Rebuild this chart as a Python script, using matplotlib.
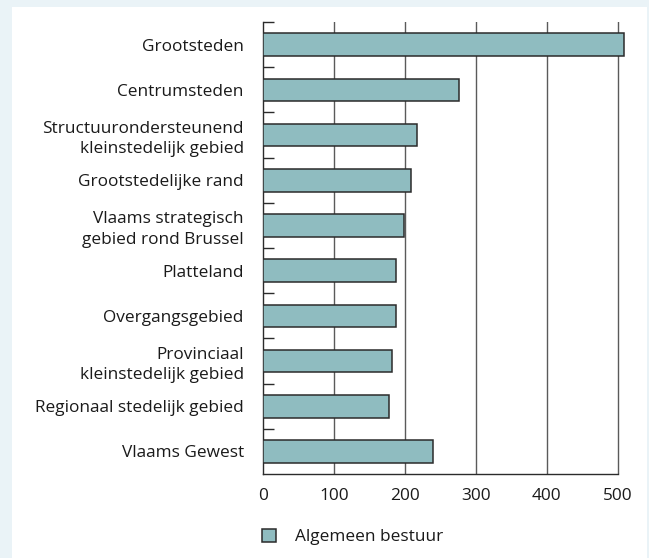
import matplotlib
matplotlib.use("Agg")
import matplotlib.pyplot as plt
from matplotlib.patches import Rectangle
import numpy as np

categories = [
    "Grootsteden",
    "Centrumsteden",
    "Structuurondersteunend\nkleinstedelijk gebied",
    "Grootstedelijke rand",
    "Vlaams strategisch\ngebied rond Brussel",
    "Platteland",
    "Overgangsgebied",
    "Provinciaal\nkleinstedelijk gebied",
    "Regionaal stedelijk gebied",
    "Vlaams Gewest",
]
values = [509, 276, 217, 209, 198, 188, 188, 182, 177, 240]
xticks = [0, 100, 200, 300, 400, 500]
series_name = "Algemeen bestuur"

plt.rcParams['font.family'] = ['Open Sans', 'DejaVu Sans']
FS = 12.4

W, H = 649, 558
fig = plt.figure(figsize=(W / 100, H / 100), dpi=100)
fig.patch.set_facecolor('#EAF3F7')
fig.add_artist(Rectangle((12 / W, 0), (647 - 12) / W, (558 - 7) / H,
                         transform=fig.transFigure, facecolor='white',
                         edgecolor='none', zorder=0))

left_px, right_px = 263.3, 631.7
top_px, bot_px = 22, 474
ax = fig.add_axes([left_px / W, 1 - bot_px / H, (right_px - left_px) / W, (bot_px - top_px) / H])
ax.set_facecolor('none')

y = np.arange(len(categories))
bars = ax.barh(y, values, height=0.5, color='#8FBCC0', edgecolor='#2b2b2b',
               linewidth=1.1, zorder=3, label=series_name)

ax.set_xlim(0, 520)
ax.set_ylim(len(categories) - 0.5, -0.5)

for t in xticks[1:]:
    ax.axvline(t, color='#5a5a5a', linewidth=1.0, zorder=1)

for s in ['top', 'right']:
    ax.spines[s].set_visible(False)
ax.spines['left'].set_color('#2b2b2b')
ax.spines['bottom'].set_color('#2b2b2b')
ax.spines['left'].set_linewidth(1.0)
ax.spines['bottom'].set_linewidth(1.0)
ax.spines['bottom'].set_bounds(0, 500)

ax.set_xticks(xticks)
ax.set_xticklabels([str(t) for t in xticks])
ax.tick_params(axis='x', length=0, pad=10, labelsize=FS, labelcolor='#1a1a1a')

ax.set_yticks(y)
ax.set_yticklabels(categories, ha='right', multialignment='right', linespacing=1.35)
ax.tick_params(axis='y', which='major', length=0, pad=14, labelsize=FS, labelcolor='#1a1a1a')
ax.set_yticks(np.arange(-0.5, len(categories) - 1, 1.0), minor=True)
ax.tick_params(axis='y', which='minor', direction='in', length=8, width=1.0, color='#2b2b2b')

leg = fig.legend(handles=[bars], labels=[series_name], loc='center left',
                 bbox_to_anchor=(246 / W, 1 - 537 / H), frameon=False,
                 handlelength=0.85, handleheight=0.85, handletextpad=1.1,
                 fontsize=FS)
for t in leg.get_texts():
    t.set_color('#1a1a1a')

fig.savefig("out.png", dpi=100, facecolor=fig.get_facecolor())
